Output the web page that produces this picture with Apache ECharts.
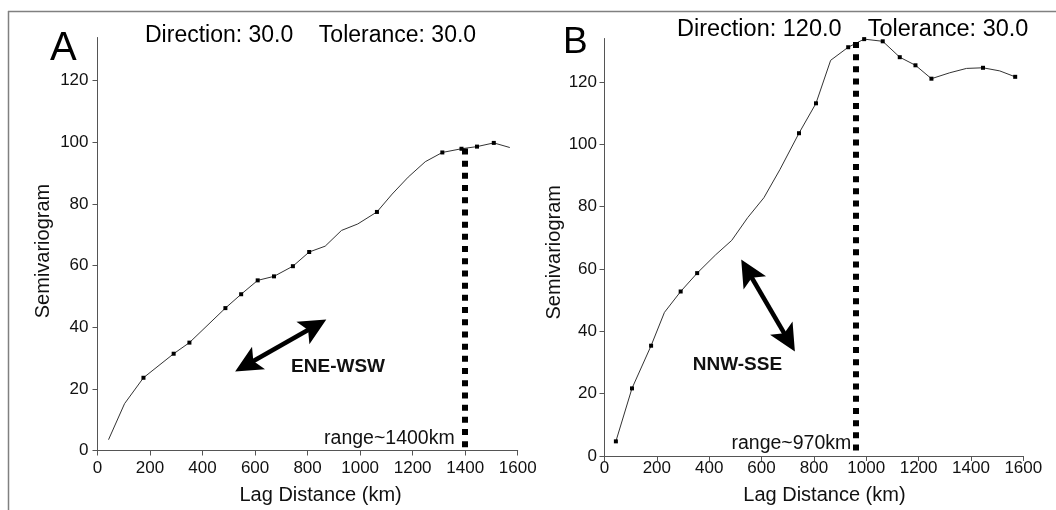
<!DOCTYPE html>
<html>
<head>
<meta charset="utf-8">
<script src="https://cdn.jsdelivr.net/npm/echarts@6/dist/echarts.min.js"></script>
<style>
html,body{margin:0;padding:0;background:#fff;}
#chart{width:1056px;height:510px;}
</style>
</head>
<body>
<div id="chart"></div>
<script>
// ---- Panel A (Direction 30, Tolerance 30) ----
const lagA   = [42, 103, 175, 290, 350, 487, 547, 610, 672, 744, 806, 867, 929, 991, 1064, 1122, 1183, 1248, 1313, 1386, 1445, 1509, 1570];
const gammaA = [3.5, 15.2, 23.6, 31.4, 35.0, 46.2, 50.7, 55.2, 56.5, 59.8, 64.4, 66.3, 71.4, 73.5, 77.4, 83.2, 88.7, 93.7, 96.7, 97.9, 98.6, 99.8, 98.3];
const dotA   = [0, 0, 1, 1, 1, 1, 1, 1, 1, 1, 1, 0, 0, 0, 1, 0, 0, 0, 1, 1, 1, 1, 0];
const rangeA = {x: 1400, top: 98, label: 'range~1400km'};
// double arrow: centres of the two heads (data coords) and their rotation (deg)
const arrowA = {ends: [[568.6, 27.8], [826.7, 40.3]], rot: [120, -60]};
const dirLabelA = {x: 916, y: 27.1, text: 'ENE-WSW'};
const titleA = 'Direction: 30.0    Tolerance: 30.0';

// ---- Panel B (Direction 120, Tolerance 30) ----
const lagB   = [43.5, 105, 178, 229, 291, 354, 425, 486, 547, 609, 670, 743, 808, 864, 931, 992, 1063, 1128, 1188, 1249, 1319, 1383, 1446, 1510, 1569];
const gammaB = [4.7, 21.7, 35.4, 46.1, 52.8, 58.7, 64.6, 69.2, 76.5, 82.9, 91.9, 103.6, 113.2, 127.0, 131.2, 133.8, 133.1, 128.0, 125.4, 121.1, 123.0, 124.4, 124.6, 123.6, 121.7];
const dotB   = [1, 1, 1, 0, 1, 1, 0, 0, 0, 0, 0, 1, 1, 0, 1, 1, 1, 1, 1, 1, 0, 0, 1, 0, 1];
const rangeB = {x: 960, top: 132.9, label: 'range~970km'};
const arrowB = {ends: [[548.3, 59.3], [701.4, 37.3]], rot: [30.2, -149.8]};
const dirLabelB = {x: 508, y: 29.3, text: 'NNW-SSE'};
const titleB = 'Direction: 120.0    Tolerance: 30.0';

// ---- Axes ----
const xTicks = [0, 200, 400, 600, 800, 1000, 1200, 1400, 1600];
const yTicks = [0, 20, 40, 60, 80, 100, 120];
const xName = 'Lag Distance (km)';
const yName = 'Semivariogram';

const FONT = "'Liberation Sans', Arial, Helvetica, sans-serif";
const AXIS_COLOR = '#555';
const HEAD = 'path://M13,0 L26,27 L13,21 L0,27 Z';

function xAxisCfg(idx, margin, nameGap, namePad) {
  return {
    type: 'value', gridIndex: idx, min: 0, max: 1600, interval: 200,
    name: xName, nameLocation: 'middle', nameGap: nameGap,
    nameTextStyle: {fontSize: 20, color: '#111', fontFamily: FONT, padding: namePad},
    axisLine: {show: true, onZero: false, lineStyle: {color: AXIS_COLOR, width: 1}},
    axisTick: {show: true, length: 5, lineStyle: {color: AXIS_COLOR}, customValues: xTicks},
    axisLabel: {fontSize: 17, color: '#111', margin: margin, fontFamily: FONT, customValues: xTicks,
                formatter: v => String(v)},
    splitLine: {show: false}
  };
}
function yAxisCfg(idx, margin, nameGap, namePad) {
  return {
    type: 'value', gridIndex: idx, min: 0, max: 134, interval: 20,
    name: yName, nameLocation: 'middle', nameGap: nameGap,
    nameTextStyle: {fontSize: 20, color: '#111', fontFamily: FONT, padding: namePad},
    axisLine: {show: true, onZero: false, lineStyle: {color: AXIS_COLOR, width: 1}},
    axisTick: {show: true, length: 5, lineStyle: {color: AXIS_COLOR}, customValues: yTicks},
    axisLabel: {fontSize: 17, color: '#111', margin: margin, fontFamily: FONT, customValues: yTicks,
                formatter: v => String(v)},
    splitLine: {show: false}
  };
}

function curveSeries(idx, lags, gammas, dots) {
  return {
    type: 'line', xAxisIndex: idx, yAxisIndex: idx,
    data: lags.map((x, i) => [x, gammas[i]]),
    symbol: 'rect', showSymbol: true, showAllSymbol: true,
    symbolSize: (v, p) => dots[p.dataIndex] ? 4 : 0,
    lineStyle: {color: '#333', width: 1},
    itemStyle: {color: '#000'},
    silent: true, z: 3
  };
}

function annoSeries(idx, range, arrow, dirLabel, labelDist) {
  const hidden = {symbol: 'rect', symbolSize: 1, itemStyle: {color: 'rgba(0,0,0,0)'}};
  return {
    type: 'line', xAxisIndex: idx, yAxisIndex: idx, data: [], silent: true, z: 5,
    markLine: {
      silent: true, animation: false,
      symbol: ['none', 'none'],
      label: {show: false},
      data: [
        [
          {coord: [range.x, range.top], lineStyle: {color: '#000', width: 6, type: [6, 6.2], cap: 'butt'}},
          {coord: [range.x, 0]}
        ],
        [
          {coord: arrow.ends[0], lineStyle: {color: '#000', width: 4.5, type: 'solid'}},
          {coord: arrow.ends[1]}
        ]
      ]
    },
    markPoint: {
      silent: true, animation: false,
      data: [
        Object.assign({coord: [range.x, 3.9]}, hidden,
          {label: {show: true, position: 'left', distance: labelDist, formatter: range.label, fontSize: 19.5, color: '#111', fontFamily: FONT}}),
        Object.assign({coord: [dirLabel.x, dirLabel.y]}, hidden,
          {label: {show: true, position: 'inside', formatter: dirLabel.text, fontSize: 19, fontWeight: 'bold', color: '#111', fontFamily: FONT}}),
        {coord: arrow.ends[0], symbol: HEAD, symbolSize: [26, 27], symbolRotate: arrow.rot[0], itemStyle: {color: '#000'}, label: {show: false}},
        {coord: arrow.ends[1], symbol: HEAD, symbolSize: [26, 27], symbolRotate: arrow.rot[1], itemStyle: {color: '#000'}, label: {show: false}}
      ]
    }
  };
}

const chart = echarts.init(document.getElementById('chart'), null, {renderer: 'canvas'});
chart.setOption({
  backgroundColor: '#fff',
  animation: false,
  textStyle: {fontFamily: FONT},
  title: [
    {text: 'A', left: 50, top: 29, padding: 0, textStyle: {fontSize: 40, fontWeight: 'normal', color: '#000', fontFamily: FONT}},
    {text: titleA, left: 145, top: 24, padding: 0, textStyle: {fontSize: 23, fontWeight: 'normal', color: '#000', fontFamily: FONT}},
    {text: 'B', left: 563, top: 24, padding: 0, textStyle: {fontSize: 37, fontWeight: 'normal', color: '#000', fontFamily: FONT}},
    {text: titleB, left: 677, top: 18, padding: 0, textStyle: {fontSize: 23.5, fontWeight: 'normal', color: '#000', fontFamily: FONT}}
  ],
  grid: [
    {left: 97.5, top: 37.5, width: 420.2, height: 420.8, containLabel: false},
    {left: 604.5, top: 38.5, width: 418.8, height: 420.8, containLabel: false}
  ],
  xAxis: [xAxisCfg(0, 9.5, 34.5, [0, 0, 0, 26]), xAxisCfg(1, 4, 29, [0, 0, 0, 21])],
  yAxis: [yAxisCfg(0, 9, 44, [0, 14, 0, 0]), yAxisCfg(1, 7.5, 39, [0, 10, 0, 0])],
  series: [
    curveSeries(0, lagA, gammaA, dotA),
    curveSeries(1, lagB, gammaB, dotB),
    annoSeries(0, rangeA, arrowA, dirLabelA, 10),
    annoSeries(1, rangeB, arrowB, dirLabelB, 4)
  ],
  graphic: [
    {type: 'line', silent: true, shape: {x1: 8, y1: 11.5, x2: 1056, y2: 11.5}, style: {stroke: '#808080', lineWidth: 1.5}},
    {type: 'line', silent: true, shape: {x1: 8.5, y1: 11, x2: 8.5, y2: 510}, style: {stroke: '#808080', lineWidth: 1.5}}
  ]
});
</script>
</body>
</html>
